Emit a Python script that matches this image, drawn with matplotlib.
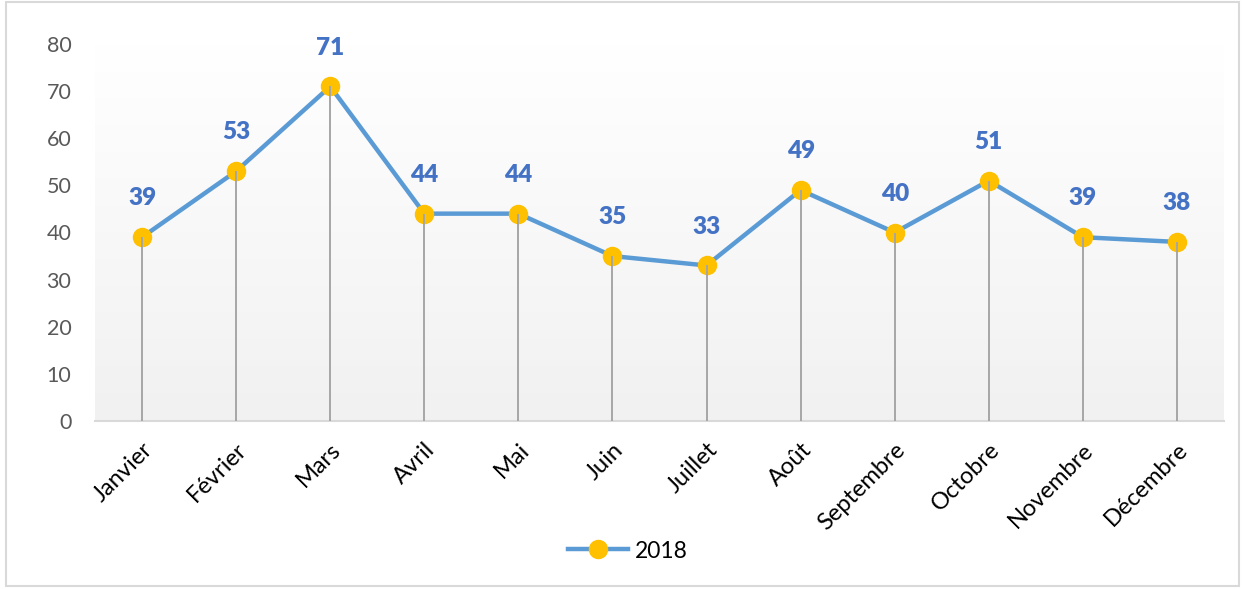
import numpy as np
import matplotlib.pyplot as plt
from matplotlib.patches import Rectangle

months = ["Janvier", "Février", "Mars", "Avril", "Mai", "Juin", "Juillet",
          "Août", "Septembre", "Octobre", "Novembre", "Décembre"]
values_2018 = [39, 53, 71, 44, 44, 35, 33, 49, 40, 51, 39, 38]
yticks = [0, 10, 20, 30, 40, 50, 60, 70, 80]

LINE_COLOR = "#5b9bd5"
MARKER_COLOR = "#ffc000"
LABEL_COLOR = "#4472c4"
DROP_COLOR = "#a6a6a6"

plt.rcParams["font.family"] = ["Lato", "DejaVu Sans"]

fig = plt.figure(figsize=(12.42, 5.89), dpi=100)
ax = fig.add_axes([95 / 1242, 1 - 421 / 589, (1224 - 95) / 1242, (421 - 44) / 589])

x = np.arange(len(months))
ax.set_xlim(-0.5, len(months) - 0.5)
ax.set_ylim(0, 80)

# gradient background: white at top, light gray at bottom
grad = np.linspace(1.0, 0.945, 256).reshape(-1, 1)
ax.imshow(np.dstack([grad, grad, grad]), extent=[-0.5, len(months) - 0.5, 0, 80],
          aspect="auto", origin="upper", zorder=0)

ax.plot(x, values_2018, color=LINE_COLOR, linewidth=3.2, marker="o",
        markersize=13, markerfacecolor=MARKER_COLOR, markeredgecolor=MARKER_COLOR,
        label="2018", zorder=3)
ax.vlines(x, 0, values_2018, color=DROP_COLOR, linewidth=1.4, zorder=4)

for xi, v in zip(x, values_2018):
    ax.annotate(str(v), (xi, v), xytext=(0, 28), textcoords="offset points",
                ha="center", va="center", color=LABEL_COLOR, fontsize=17.5,
                fontweight="heavy", zorder=5)

ax.set_yticks(yticks)
ax.set_xticks(x)
ax.set_xticklabels(months, rotation=45, ha="right", rotation_mode="anchor")
ax.tick_params(axis="y", length=0, labelsize=15.5, labelcolor="#595959", pad=17)
ax.tick_params(axis="x", length=0, labelsize=17, labelcolor="black", pad=13)
for side in ["top", "right", "left"]:
    ax.spines[side].set_visible(False)
ax.spines["bottom"].set_color("#d9d9d9")
ax.spines["bottom"].set_linewidth(1.5)
ax.spines["bottom"].set_zorder(2)

fig.legend(loc="center", bbox_to_anchor=(628 / 1242, 1 - 551 / 589), frameon=False,
           fontsize=16.5, handlelength=2.6, handletextpad=0.3)

fig.patches.append(Rectangle((6 / 1242, 3 / 589), 1233 / 1242, 584 / 589,
                             transform=fig.transFigure, fill=False,
                             edgecolor="#d9d9d9", linewidth=1.5))

fig.savefig("out.png", dpi=100)
plt.close()
